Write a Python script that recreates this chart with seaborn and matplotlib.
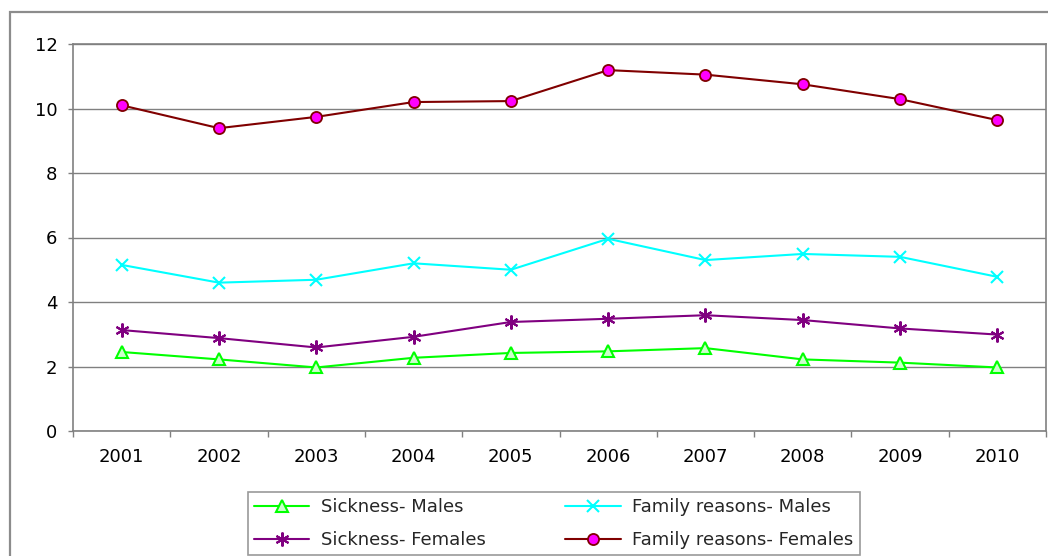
import matplotlib
matplotlib.use("Agg")
import matplotlib.pyplot as plt
from matplotlib.patches import Rectangle
import seaborn as sns
import pandas as pd
import numpy as np

years = ["2001", "2002", "2003", "2004", "2005", "2006", "2007", "2008", "2009", "2010"]

sickness_males = [2.45, 2.22, 1.97, 2.27, 2.42, 2.47, 2.57, 2.22, 2.12, 1.97]
sickness_females = [3.13, 2.88, 2.59, 2.92, 3.38, 3.48, 3.59, 3.44, 3.18, 2.99]
family_males = [5.15, 4.60, 4.69, 5.20, 5.00, 5.96, 5.30, 5.49, 5.40, 4.78]
family_females = [10.10, 9.39, 9.74, 10.20, 10.23, 11.19, 11.05, 10.75, 10.29, 9.64]

series_names = ["Sickness- Males", "Sickness- Females",
                "Family reasons- Males", "Family reasons- Females"]
series_values = [sickness_males, sickness_females, family_males, family_females]

styles = {
    "Sickness- Males": dict(color="#00FF00", marker="^", mfc="#CCFFCC", mec="#00FF00", ms=9, mew=1.5),
    "Sickness- Females": dict(color="#800080", marker=(6, 2, 0), mfc="#800080", mec="#800080", ms=10, mew=1.5),
    "Family reasons- Males": dict(color="#00FFFF", marker="x", mfc="#00FFFF", mec="#00FFFF", ms=9, mew=1.5),
    "Family reasons- Females": dict(color="#800000", marker="o", mfc="#FF00FF", mec="#800000", ms=8, mew=1.3),
}

rows = []
for name, vals in zip(series_names, series_values):
    for i, (yr, v) in enumerate(zip(years, vals)):
        rows.append({"pos": i, "year": yr, "value": v, "series": name})
df = pd.DataFrame(rows)

sns.set_theme(style="white")
plt.rcParams["font.family"] = ["DejaVu Sans"]

FS = 13
W, H = 1048, 556
fig = plt.figure(figsize=(W / 100, H / 100), dpi=100)

# outer chart frame (extends beyond the right and bottom edges)
fig.patches.append(Rectangle((10 / W, -0.05), 1.1, (H - 12) / H + 0.05,
                             transform=fig.transFigure, fill=False,
                             edgecolor="#8C8C8C", lw=1.6, zorder=0))

ax = fig.add_axes([73 / W, (H - 431) / H, (1046 - 73) / W, (431 - 44) / H])

for name in series_names:
    st = styles[name]
    sub = df[df["series"] == name]
    sns.lineplot(data=sub, x="pos", y="value", ax=ax, color=st["color"], lw=1.5,
                 marker=st["marker"], markerfacecolor=st["mfc"],
                 markeredgecolor=st["mec"], markersize=st["ms"],
                 markeredgewidth=st["mew"], label=name, legend=False)

ax.set_xlim(-0.5, len(years) - 0.5)
ax.set_ylim(0, 12)
ax.set_yticks(np.arange(0, 13, 2))
ax.set_xticks(np.arange(-0.5, len(years), 1.0))
ax.set_xticklabels([])
ax.set_xticks(np.arange(len(years)), minor=True)
ax.set_xticklabels(years, minor=True)
ax.tick_params(axis="x", which="major", length=4.3, width=1, color="#808080", direction="out", bottom=True)
ax.tick_params(axis="x", which="minor", length=0, pad=12, labelsize=FS, labelcolor="black")
ax.tick_params(axis="y", length=3.6, width=1, color="#808080", direction="out", left=True,
               pad=7.5, labelsize=FS, labelcolor="black")
ax.set_xlabel("")
ax.set_ylabel("")
ax.yaxis.grid(True, color="#808080", lw=1)
ax.xaxis.grid(False)
for sp in ax.spines.values():
    sp.set_color("#808080")
    sp.set_linewidth(1.2)

lines = ax.get_lines()
labels_now = [l.get_label() for l in lines]
order = [lines[labels_now.index(n)] for n in series_names]
leg = fig.legend(order, series_names, ncol=2, loc="upper left",
                 bbox_to_anchor=(248 / W, (H - 492) / H), bbox_transform=fig.transFigure,
                 frameon=True, fancybox=False, edgecolor="#808080", fontsize=FS,
                 handlelength=3.05, columnspacing=4.4, labelspacing=0.82,
                 borderpad=0.35, handletextpad=0.65, borderaxespad=0)
leg.get_frame().set_linewidth(1.2)

fig.savefig("out.png", dpi=100)
